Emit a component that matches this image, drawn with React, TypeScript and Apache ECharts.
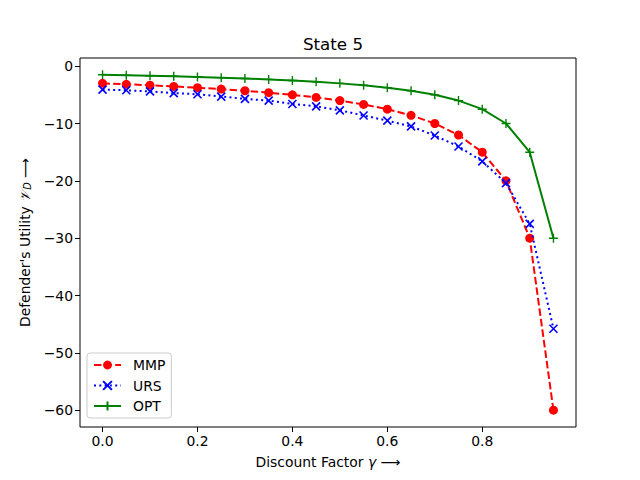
import React, { useEffect, useRef } from "react";
import * as echarts from "echarts";

const gammas = [0, 0.05, 0.1, 0.15, 0.2, 0.25, 0.3, 0.35, 0.4, 0.45, 0.5, 0.55, 0.6, 0.65, 0.7, 0.75, 0.8, 0.85, 0.9, 0.95];
const mmp = [-3.0, -3.16, -3.33, -3.53, -3.75, -4.0, -4.29, -4.62, -5.0, -5.45, -6.0, -6.67, -7.5, -8.57, -10.0, -12.0, -15.0, -20.0, -30.0, -60.0];
const urs = [-4.1, -4.2, -4.4, -4.7, -4.9, -5.3, -5.7, -6.0, -6.6, -7.0, -7.7, -8.6, -9.5, -10.5, -12.1, -14.0, -16.6, -20.4, -27.5, -45.8];
const opt = [-1.5, -1.58, -1.67, -1.76, -1.88, -2.0, -2.14, -2.31, -2.5, -2.73, -3.0, -3.33, -3.75, -4.29, -5.0, -6.0, -7.5, -10.0, -15.0, -30.0];
const xTicks = [0, 0.2, 0.4, 0.6, 0.8];
const yTicks = [0, -10, -20, -30, -40, -50, -60];

const FONT = "DejaVu Sans";
const X_PATH = "path://M0 0 L10 10 M10 0 L0 10";
const PLUS_PATH = "path://M5 0 L5 10 M0 5 L10 5";

export default function App() {
  const ref = useRef<HTMLDivElement>(null);
  useEffect(() => {
    const chart = echarts.init(ref.current!, null, { renderer: "svg" });
    const pair = (ys: number[]) => gammas.map((g, i) => [g, ys[i]]);
    chart.setOption({
      animation: false,
      backgroundColor: "#ffffff",
      textStyle: { fontFamily: FONT },
      title: {
        text: "State 5",
        left: 328,
        textAlign: "center",
        top: 30,
        textStyle: { fontFamily: FONT, fontSize: 16.7, fontWeight: "normal", color: "#000" },
      },
      grid: {
        left: 80,
        top: 58,
        width: 496,
        height: 369,
        show: true,
        borderColor: "#000",
        borderWidth: 1,
        backgroundColor: "transparent",
      },
      legend: {
        orient: "vertical",
        left: 87,
        top: 353,
        padding: [5, 6, 5, 6],
        itemGap: 6.5,
        itemWidth: 27,
        itemHeight: 11,
        borderColor: "#cccccc",
        borderWidth: 1,
        borderRadius: 3,
        backgroundColor: "rgba(255,255,255,0.8)",
        textStyle: { fontFamily: FONT, fontSize: 13.9, color: "#000", padding: [0, 0, 0, 7] },
        data: ["MMP", "URS", "OPT"],
      },
      xAxis: {
        type: "value",
        min: -0.0475,
        max: 0.9975,
        name: "{a|Discount Factor }{g|γ}{a| ⟶}",
        nameLocation: "middle",
        nameGap: 28,
        nameTextStyle: {
          rich: {
            a: { fontFamily: FONT, fontSize: 13.9, color: "#000" },
            g: { fontFamily: FONT, fontSize: 13.9, fontStyle: "italic", color: "#000" },
          },
        },
        axisLine: { show: false, onZero: false },
        axisTick: { show: true, inside: false, length: 5, lineStyle: { color: "#000" }, customValues: xTicks },
        axisLabel: {
          customValues: xTicks,
          fontFamily: FONT,
          fontSize: 13.9,
          color: "#000",
          margin: 7,
          formatter: (v: number) => v.toFixed(1),
        },
        splitLine: { show: false },
      },
      yAxis: {
        type: "value",
        min: -62.925,
        max: 1.425,
        name: "{a|Defender's Utility }{v|𝒱}{s|D}{a| ⟶}",
        nameLocation: "middle",
        nameGap: 46,
        nameTextStyle: {
          rich: {
            a: { fontFamily: FONT, fontSize: 13.9, color: "#000" },
            v: { fontFamily: FONT, fontSize: 13.9, fontStyle: "italic", color: "#000" },
            s: { fontFamily: FONT, fontSize: 9.7, fontStyle: "italic", color: "#000", padding: [6, 0, 0, 0] },
          },
        },
        axisLine: { show: false, onZero: false },
        axisTick: { show: true, inside: false, length: 5, lineStyle: { color: "#000" }, customValues: yTicks },
        axisLabel: {
          customValues: yTicks,
          fontFamily: FONT,
          fontSize: 13.9,
          color: "#000",
          margin: 7,
          formatter: (v: number) => (v < 0 ? "\u2212" + Math.abs(v) : String(v)),
        },
        splitLine: { show: false },
      },
      series: [
        {
          name: "MMP",
          type: "line",
          data: pair(mmp),
          symbol: "circle",
          symbolSize: 9,
          itemStyle: { color: "#ff0000" },
          lineStyle: { color: "#ff0000", width: 2, type: [7.4, 3.2] },
          z: 3,
        },
        {
          name: "URS",
          type: "line",
          data: pair(urs),
          symbol: X_PATH,
          symbolSize: 8,
          itemStyle: { color: "transparent", borderColor: "#0000ff", borderWidth: 1.6 },
          lineStyle: { color: "#0000ff", width: 2, type: [2, 3.3] },
          z: 4,
        },
        {
          name: "OPT",
          type: "line",
          data: pair(opt),
          symbol: PLUS_PATH,
          symbolSize: 9,
          itemStyle: { color: "transparent", borderColor: "#008000", borderWidth: 1.4 },
          lineStyle: { color: "#008000", width: 2 },
          z: 5,
        },
      ],
    });
    return () => chart.dispose();
  }, []);
  return (
    <div
      ref={ref}
      style={{ position: "fixed", left: 0, top: 0, width: 640, height: 480, background: "#fff" }}
    />
  );
}
